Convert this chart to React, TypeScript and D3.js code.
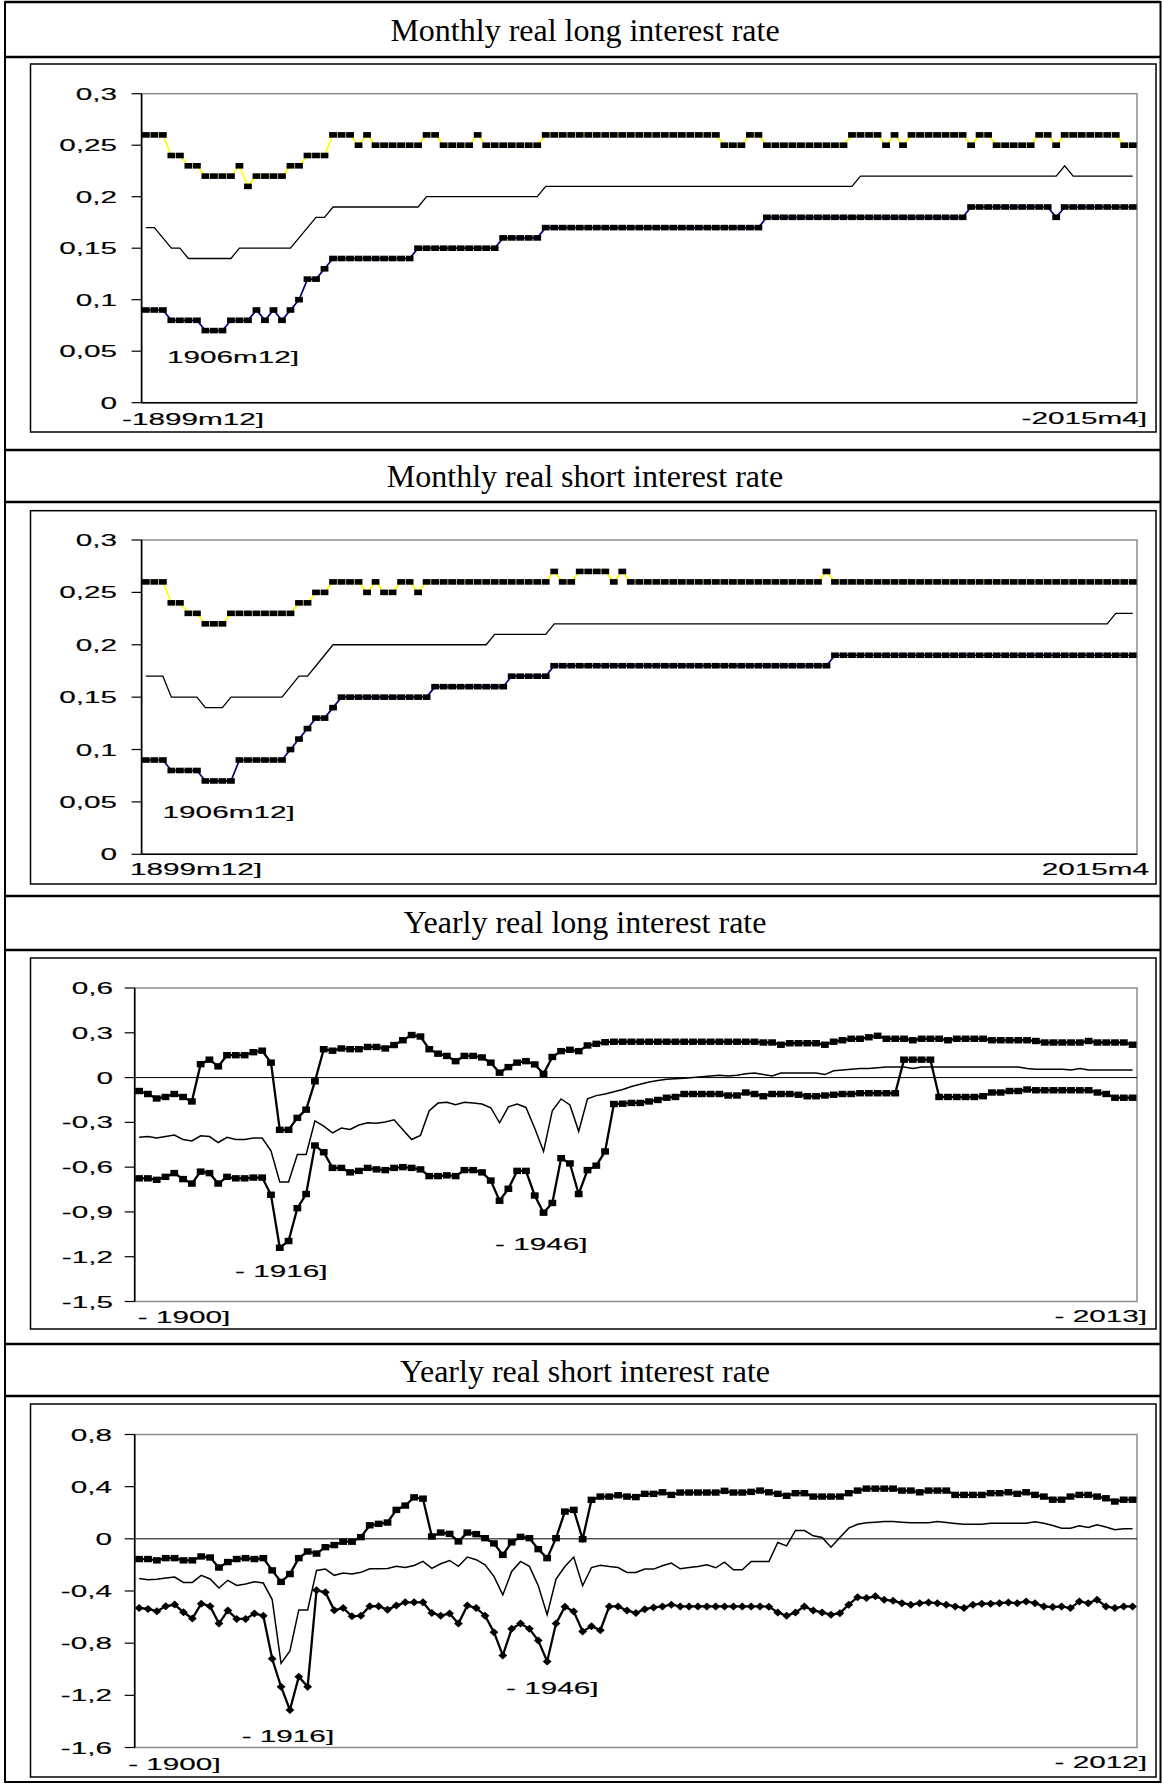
import React from 'react';
import * as d3 from 'd3';

const SANS = 'Liberation Sans, Arial, sans-serif';
const SERIF = 'Liberation Serif, Times New Roman, serif';
// the excel pictures were stretched sideways when pasted, so their text is too
const STRETCH = 1.8;

// monthly real long rate: upper band, central line, lower band (117 windows, 1899m12 .. 2015m4)
const mlHigh = [
  0.26, 0.26, 0.26, 0.24, 0.24, 0.23, 0.23, 0.22, 0.22, 0.22,
  0.22, 0.23, 0.21, 0.22, 0.22, 0.22, 0.22, 0.23, 0.23, 0.24,
  0.24, 0.24, 0.26, 0.26, 0.26, 0.25, 0.26, 0.25, 0.25, 0.25,
  0.25, 0.25, 0.25, 0.26, 0.26, 0.25, 0.25, 0.25, 0.25, 0.26,
  0.25, 0.25, 0.25, 0.25, 0.25, 0.25, 0.25, 0.26, 0.26, 0.26,
  0.26, 0.26, 0.26, 0.26, 0.26, 0.26, 0.26, 0.26, 0.26, 0.26,
  0.26, 0.26, 0.26, 0.26, 0.26, 0.26, 0.26, 0.26, 0.25, 0.25,
  0.25, 0.26, 0.26, 0.25, 0.25, 0.25, 0.25, 0.25, 0.25, 0.25,
  0.25, 0.25, 0.25, 0.26, 0.26, 0.26, 0.26, 0.25, 0.26, 0.25,
  0.26, 0.26, 0.26, 0.26, 0.26, 0.26, 0.26, 0.25, 0.26, 0.26,
  0.25, 0.25, 0.25, 0.25, 0.25, 0.26, 0.26, 0.25, 0.26, 0.26,
  0.26, 0.26, 0.26, 0.26, 0.26, 0.25, 0.25,
];
const mlMid = [
  0.17, 0.17, 0.16, 0.15, 0.15, 0.14, 0.14, 0.14, 0.14, 0.14,
  0.14, 0.15, 0.15, 0.15, 0.15, 0.15, 0.15, 0.15, 0.16, 0.17,
  0.18, 0.18, 0.19, 0.19, 0.19, 0.19, 0.19, 0.19, 0.19, 0.19,
  0.19, 0.19, 0.19, 0.2, 0.2, 0.2, 0.2, 0.2, 0.2, 0.2,
  0.2, 0.2, 0.2, 0.2, 0.2, 0.2, 0.2, 0.21, 0.21, 0.21,
  0.21, 0.21, 0.21, 0.21, 0.21, 0.21, 0.21, 0.21, 0.21, 0.21,
  0.21, 0.21, 0.21, 0.21, 0.21, 0.21, 0.21, 0.21, 0.21, 0.21,
  0.21, 0.21, 0.21, 0.21, 0.21, 0.21, 0.21, 0.21, 0.21, 0.21,
  0.21, 0.21, 0.21, 0.21, 0.22, 0.22, 0.22, 0.22, 0.22, 0.22,
  0.22, 0.22, 0.22, 0.22, 0.22, 0.22, 0.22, 0.22, 0.22, 0.22,
  0.22, 0.22, 0.22, 0.22, 0.22, 0.22, 0.22, 0.22, 0.23, 0.22,
  0.22, 0.22, 0.22, 0.22, 0.22, 0.22, 0.22,
];
const mlLow = [
  0.09, 0.09, 0.09, 0.08, 0.08, 0.08, 0.08, 0.07, 0.07, 0.07,
  0.08, 0.08, 0.08, 0.09, 0.08, 0.09, 0.08, 0.09, 0.1, 0.12,
  0.12, 0.13, 0.14, 0.14, 0.14, 0.14, 0.14, 0.14, 0.14, 0.14,
  0.14, 0.14, 0.15, 0.15, 0.15, 0.15, 0.15, 0.15, 0.15, 0.15,
  0.15, 0.15, 0.16, 0.16, 0.16, 0.16, 0.16, 0.17, 0.17, 0.17,
  0.17, 0.17, 0.17, 0.17, 0.17, 0.17, 0.17, 0.17, 0.17, 0.17,
  0.17, 0.17, 0.17, 0.17, 0.17, 0.17, 0.17, 0.17, 0.17, 0.17,
  0.17, 0.17, 0.17, 0.18, 0.18, 0.18, 0.18, 0.18, 0.18, 0.18,
  0.18, 0.18, 0.18, 0.18, 0.18, 0.18, 0.18, 0.18, 0.18, 0.18,
  0.18, 0.18, 0.18, 0.18, 0.18, 0.18, 0.18, 0.19, 0.19, 0.19,
  0.19, 0.19, 0.19, 0.19, 0.19, 0.19, 0.19, 0.18, 0.19, 0.19,
  0.19, 0.19, 0.19, 0.19, 0.19, 0.19, 0.19,
];

// monthly real short rate
const msHigh = [
  0.26, 0.26, 0.26, 0.24, 0.24, 0.23, 0.23, 0.22, 0.22, 0.22,
  0.23, 0.23, 0.23, 0.23, 0.23, 0.23, 0.23, 0.23, 0.24, 0.24,
  0.25, 0.25, 0.26, 0.26, 0.26, 0.26, 0.25, 0.26, 0.25, 0.25,
  0.26, 0.26, 0.25, 0.26, 0.26, 0.26, 0.26, 0.26, 0.26, 0.26,
  0.26, 0.26, 0.26, 0.26, 0.26, 0.26, 0.26, 0.26, 0.27, 0.26,
  0.26, 0.27, 0.27, 0.27, 0.27, 0.26, 0.27, 0.26, 0.26, 0.26,
  0.26, 0.26, 0.26, 0.26, 0.26, 0.26, 0.26, 0.26, 0.26, 0.26,
  0.26, 0.26, 0.26, 0.26, 0.26, 0.26, 0.26, 0.26, 0.26, 0.26,
  0.27, 0.26, 0.26, 0.26, 0.26, 0.26, 0.26, 0.26, 0.26, 0.26,
  0.26, 0.26, 0.26, 0.26, 0.26, 0.26, 0.26, 0.26, 0.26, 0.26,
  0.26, 0.26, 0.26, 0.26, 0.26, 0.26, 0.26, 0.26, 0.26, 0.26,
  0.26, 0.26, 0.26, 0.26, 0.26, 0.26, 0.26,
];
const msMid = [
  0.17, 0.17, 0.17, 0.15, 0.15, 0.15, 0.15, 0.14, 0.14, 0.14,
  0.15, 0.15, 0.15, 0.15, 0.15, 0.15, 0.15, 0.16, 0.17, 0.17,
  0.18, 0.19, 0.2, 0.2, 0.2, 0.2, 0.2, 0.2, 0.2, 0.2,
  0.2, 0.2, 0.2, 0.2, 0.2, 0.2, 0.2, 0.2, 0.2, 0.2,
  0.2, 0.21, 0.21, 0.21, 0.21, 0.21, 0.21, 0.21, 0.22, 0.22,
  0.22, 0.22, 0.22, 0.22, 0.22, 0.22, 0.22, 0.22, 0.22, 0.22,
  0.22, 0.22, 0.22, 0.22, 0.22, 0.22, 0.22, 0.22, 0.22, 0.22,
  0.22, 0.22, 0.22, 0.22, 0.22, 0.22, 0.22, 0.22, 0.22, 0.22,
  0.22, 0.22, 0.22, 0.22, 0.22, 0.22, 0.22, 0.22, 0.22, 0.22,
  0.22, 0.22, 0.22, 0.22, 0.22, 0.22, 0.22, 0.22, 0.22, 0.22,
  0.22, 0.22, 0.22, 0.22, 0.22, 0.22, 0.22, 0.22, 0.22, 0.22,
  0.22, 0.22, 0.22, 0.22, 0.23, 0.23, 0.23,
];
const msLow = [
  0.09, 0.09, 0.09, 0.08, 0.08, 0.08, 0.08, 0.07, 0.07, 0.07,
  0.07, 0.09, 0.09, 0.09, 0.09, 0.09, 0.09, 0.1, 0.11, 0.12,
  0.13, 0.13, 0.14, 0.15, 0.15, 0.15, 0.15, 0.15, 0.15, 0.15,
  0.15, 0.15, 0.15, 0.15, 0.16, 0.16, 0.16, 0.16, 0.16, 0.16,
  0.16, 0.16, 0.16, 0.17, 0.17, 0.17, 0.17, 0.17, 0.18, 0.18,
  0.18, 0.18, 0.18, 0.18, 0.18, 0.18, 0.18, 0.18, 0.18, 0.18,
  0.18, 0.18, 0.18, 0.18, 0.18, 0.18, 0.18, 0.18, 0.18, 0.18,
  0.18, 0.18, 0.18, 0.18, 0.18, 0.18, 0.18, 0.18, 0.18, 0.18,
  0.18, 0.19, 0.19, 0.19, 0.19, 0.19, 0.19, 0.19, 0.19, 0.19,
  0.19, 0.19, 0.19, 0.19, 0.19, 0.19, 0.19, 0.19, 0.19, 0.19,
  0.19, 0.19, 0.19, 0.19, 0.19, 0.19, 0.19, 0.19, 0.19, 0.19,
  0.19, 0.19, 0.19, 0.19, 0.19, 0.19, 0.19,
];

// yearly real long rate, 1900 .. 2013
const ylHigh = [
  -0.09, -0.11, -0.14, -0.13, -0.11, -0.13, -0.16, 0.09, 0.12, 0.075,
  0.15, 0.15, 0.15, 0.17, 0.18, 0.1, -0.35, -0.35, -0.27, -0.215,
  -0.025, 0.19, 0.18, 0.195, 0.19, 0.19, 0.205, 0.205, 0.195, 0.218,
  0.25, 0.285, 0.275, 0.19, 0.16, 0.145, 0.11, 0.145, 0.145, 0.135,
  0.1, 0.033, 0.07, 0.1, 0.11, 0.088, 0.025, 0.138, 0.177, 0.186,
  0.177, 0.215, 0.226, 0.237, 0.24, 0.24, 0.24, 0.24, 0.24, 0.24,
  0.24, 0.24, 0.24, 0.24, 0.24, 0.24, 0.24, 0.24, 0.24, 0.24,
  0.24, 0.235, 0.235, 0.22, 0.23, 0.23, 0.23, 0.23, 0.22, 0.24,
  0.25, 0.26, 0.26, 0.27, 0.28, 0.26, 0.26, 0.26, 0.25, 0.26,
  0.26, 0.26, 0.25, 0.26, 0.26, 0.26, 0.26, 0.25, 0.25, 0.25,
  0.25, 0.25, 0.245, 0.235, 0.235, 0.235, 0.235, 0.235, 0.245, 0.235,
  0.235, 0.235, 0.235, 0.22,
];
const ylMid = [
  -0.4, -0.395, -0.405, -0.395, -0.385, -0.415, -0.425, -0.39, -0.395, -0.435,
  -0.4, -0.415, -0.415, -0.405, -0.405, -0.49, -0.7, -0.7, -0.515, -0.515,
  -0.29, -0.325, -0.37, -0.338, -0.348, -0.318, -0.303, -0.306, -0.298, -0.283,
  -0.35, -0.415, -0.387, -0.222, -0.171, -0.166, -0.182, -0.166, -0.17, -0.177,
  -0.202, -0.303, -0.196, -0.178, -0.2, -0.34, -0.495, -0.222, -0.143, -0.183,
  -0.36, -0.143, -0.121, -0.11, -0.095, -0.08, -0.06, -0.045, -0.03, -0.02,
  -0.012, -0.008, -0.005, 0, 0.005, 0.01, 0.015, 0.01, 0.015, 0.025,
  0.03, 0.02, 0.01, 0.03, 0.03, 0.03, 0.03, 0.03, 0.02, 0.045,
  0.05, 0.055, 0.06, 0.06, 0.065, 0.07, 0.07, 0.07, 0.06, 0.07,
  0.07, 0.07, 0.07, 0.07, 0.07, 0.07, 0.07, 0.07, 0.07, 0.07,
  0.07, 0.06, 0.055, 0.055, 0.055, 0.055, 0.05, 0.06, 0.05, 0.05,
  0.05, 0.05, 0.05, 0.05,
];
const ylLow = [
  -0.675, -0.675, -0.685, -0.665, -0.64, -0.68, -0.71, -0.63, -0.64, -0.71,
  -0.665, -0.675, -0.675, -0.67, -0.67, -0.785, -1.14, -1.095, -0.875, -0.78,
  -0.455, -0.5, -0.605, -0.605, -0.635, -0.625, -0.605, -0.615, -0.62, -0.605,
  -0.6, -0.605, -0.615, -0.66, -0.66, -0.655, -0.66, -0.62, -0.62, -0.635,
  -0.69, -0.825, -0.745, -0.625, -0.625, -0.79, -0.905, -0.84, -0.54, -0.575,
  -0.78, -0.62, -0.59, -0.495, -0.177, -0.175, -0.17, -0.17, -0.16, -0.15,
  -0.135, -0.13, -0.11, -0.11, -0.11, -0.11, -0.11, -0.12, -0.12, -0.1,
  -0.11, -0.125, -0.11, -0.11, -0.11, -0.115, -0.125, -0.125, -0.12, -0.115,
  -0.11, -0.11, -0.105, -0.105, -0.105, -0.105, -0.105, 0.12, 0.12, 0.12,
  0.12, -0.13, -0.13, -0.13, -0.13, -0.13, -0.125, -0.1, -0.1, -0.09,
  -0.09, -0.08, -0.085, -0.085, -0.085, -0.085, -0.085, -0.085, -0.085, -0.1,
  -0.11, -0.135, -0.135, -0.135,
];

// yearly real short rate, 1900 .. 2012
const ysHigh = [
  -0.155, -0.155, -0.165, -0.148, -0.148, -0.165, -0.165, -0.135, -0.143, -0.22,
  -0.178, -0.155, -0.148, -0.155, -0.148, -0.242, -0.33, -0.27, -0.148, -0.097,
  -0.113, -0.064, -0.048, -0.022, -0.022, 0.013, 0.104, 0.115, 0.125, 0.222,
  0.255, 0.318, 0.308, 0.018, 0.048, 0.038, -0.02, 0.048, 0.036, 0.005,
  -0.035, -0.123, -0.027, 0.015, 0.005, -0.079, -0.148, 0.005, 0.209, 0.222,
  -0.003, 0.299, 0.324, 0.324, 0.334, 0.324, 0.32, 0.345, 0.345, 0.357,
  0.337, 0.355, 0.355, 0.355, 0.355, 0.355, 0.368, 0.355, 0.355, 0.36,
  0.37, 0.357, 0.345, 0.33, 0.35, 0.35, 0.324, 0.324, 0.324, 0.324,
  0.35, 0.37, 0.385, 0.385, 0.385, 0.385, 0.37, 0.37, 0.357, 0.37,
  0.37, 0.37, 0.337, 0.337, 0.337, 0.337, 0.35, 0.35, 0.357, 0.345,
  0.357, 0.337, 0.324, 0.3, 0.3, 0.324, 0.337, 0.337, 0.324, 0.311,
  0.286, 0.3, 0.3,
];
const ysMid = [
  -0.305, -0.313, -0.31, -0.3, -0.293, -0.334, -0.334, -0.28, -0.308, -0.377,
  -0.318, -0.357, -0.346, -0.329, -0.339, -0.466, -0.955, -0.86, -0.545, -0.545,
  -0.242, -0.232, -0.28, -0.262, -0.27, -0.257, -0.229, -0.229, -0.227, -0.211,
  -0.219, -0.204, -0.173, -0.227, -0.191, -0.166, -0.211, -0.14, -0.16, -0.199,
  -0.288, -0.43, -0.25, -0.173, -0.211, -0.36, -0.582, -0.309, -0.212, -0.14,
  -0.36, -0.22, -0.202, -0.212, -0.22, -0.258, -0.258, -0.232, -0.232, -0.207,
  -0.186, -0.23, -0.22, -0.212, -0.199, -0.222, -0.179, -0.237, -0.237, -0.174,
  -0.174, -0.174, -0.028, -0.054, 0.064, 0.064, 0.023, 0.01, -0.064, 0.01,
  0.082, 0.112, 0.123, 0.128, 0.133, 0.133, 0.128, 0.123, 0.123, 0.123,
  0.133, 0.125, 0.118, 0.112, 0.112, 0.112, 0.12, 0.12, 0.12, 0.12,
  0.12, 0.13, 0.12, 0.102, 0.082, 0.082, 0.1, 0.087, 0.107, 0.09,
  0.069, 0.077, 0.077,
];
const ysLow = [
  -0.53, -0.538, -0.555, -0.517, -0.504, -0.563, -0.611, -0.497, -0.517, -0.65,
  -0.55, -0.614, -0.614, -0.573, -0.589, -0.92, -1.134, -1.312, -1.057, -1.134,
  -0.395, -0.41, -0.548, -0.53, -0.594, -0.589, -0.517, -0.517, -0.543, -0.512,
  -0.487, -0.487, -0.487, -0.568, -0.589, -0.573, -0.65, -0.512, -0.53, -0.589,
  -0.716, -0.894, -0.69, -0.65, -0.69, -0.78, -0.94, -0.65, -0.52, -0.557,
  -0.71, -0.67, -0.7, -0.518, -0.518, -0.549, -0.569, -0.539, -0.526, -0.518,
  -0.505, -0.518, -0.518, -0.518, -0.518, -0.518, -0.518, -0.518, -0.518, -0.518,
  -0.518, -0.52, -0.564, -0.59, -0.564, -0.518, -0.549, -0.564, -0.582, -0.57,
  -0.505, -0.447, -0.454, -0.441, -0.467, -0.475, -0.493, -0.505, -0.493, -0.488,
  -0.493, -0.505, -0.518, -0.531, -0.505, -0.497, -0.497, -0.493, -0.488, -0.493,
  -0.48, -0.493, -0.518, -0.523, -0.518, -0.531, -0.48, -0.493, -0.467, -0.518,
  -0.531, -0.518, -0.518,
];

const monthlyTicks = [0, 0.05, 0.1, 0.15, 0.2, 0.25, 0.3];
const monthlyTickLabels = ['0', '0,05', '0,1', '0,15', '0,2', '0,25', '0,3'];
const ylTicks = [-1.5, -1.2, -0.9, -0.6, -0.3, 0, 0.3, 0.6];
const ylTickLabels = ['-1,5', '-1,2', '-0,9', '-0,6', '-0,3', '0', '0,3', '0,6'];
const ysTicks = [-1.6, -1.2, -0.8, -0.4, 0, 0.4, 0.8];
const ysTickLabels = ['-1,6', '-1,2', '-0,8', '-0,4', '0', '0,4', '0,8'];

const titles = [
  'Monthly real long interest rate',
  'Monthly real short interest rate',
  'Yearly real long interest rate',
  'Yearly real short interest rate',
];

const STRETCHED = ({ x, y, anchor = 'start', children }: any) => (
  <text
    transform={`translate(${x},${y}) scale(${STRETCH},1)`}
    textAnchor={anchor}
    fontFamily={SANS}
    fontSize={16.5}
    fill="#000"
    stroke="#000"
    strokeWidth={0.15}
  >
    {children}
  </text>
);

type Series = { values: number[]; stroke: string; width: number; marker?: 'square' | 'diamond' };

const panels = [
  {
    title: titles[0], cellTop: 2, titleY: 41, sepY: 57, cellBottom: 450,
    frame: [30.5, 64, 1156, 432],
    plot: { left: 141.6, right: 1137, top: 93.7, bottom: 402.7 },
    domain: [0, 0.3], ticks: monthlyTicks, tickLabels: monthlyTickLabels, labelRight: 117,
    mw: 7.8, mh: 5.6,
    series: [
      { values: mlMid, stroke: '#000', width: 1.3 },
      { values: mlHigh, stroke: '#ffff00', width: 1.7, marker: 'square' },
      { values: mlLow, stroke: '#000080', width: 1.7, marker: 'square' },
    ] as Series[],
    xLabels: [
      { text: '-1899m12]', x: 122, y: 425, anchor: 'start' },
      { text: '-2015m4]', x: 1147, y: 424, anchor: 'end' },
    ],
    notes: [{ text: '1906m12]', x: 167, y: 363 }],
  },
  {
    title: titles[1], cellTop: 450, titleY: 487, sepY: 502, cellBottom: 896,
    frame: [30.5, 510.7, 1156, 884],
    plot: { left: 141.6, right: 1137, top: 540, bottom: 854.3 },
    domain: [0, 0.3], ticks: monthlyTicks, tickLabels: monthlyTickLabels, labelRight: 117,
    mw: 7.8, mh: 5.6,
    series: [
      { values: msMid, stroke: '#000', width: 1.3 },
      { values: msHigh, stroke: '#ffff00', width: 1.7, marker: 'square' },
      { values: msLow, stroke: '#000080', width: 1.7, marker: 'square' },
    ] as Series[],
    xLabels: [
      { text: '1899m12]', x: 130, y: 875, anchor: 'start' },
      { text: '2015m4', x: 1149, y: 875, anchor: 'end' },
    ],
    notes: [{ text: '1906m12]', x: 162.6, y: 818 }],
  },
  {
    title: titles[2], cellTop: 896, titleY: 933, sepY: 950, cellBottom: 1344,
    frame: [30.5, 958, 1156, 1329],
    plot: { left: 134.7, right: 1137, top: 988, bottom: 1301.5 },
    domain: [-1.5, 0.6], ticks: ylTicks, tickLabels: ylTickLabels, labelRight: 113,
    mw: 7.8, mh: 6.4,
    series: [
      { values: ylMid, stroke: '#000', width: 1.5 },
      { values: ylHigh, stroke: '#000', width: 2.3, marker: 'square' },
      { values: ylLow, stroke: '#000', width: 2.3, marker: 'square' },
    ] as Series[],
    xLabels: [
      { text: '- 1900]', x: 137.8, y: 1322.7, anchor: 'start' },
      { text: '- 2013]', x: 1147, y: 1321.7, anchor: 'end' },
    ],
    notes: [
      { text: '- 1916]', x: 235, y: 1276.7 },
      { text: '- 1946]', x: 495, y: 1250 },
    ],
  },
  {
    title: titles[3], cellTop: 1344, titleY: 1382, sepY: 1396, cellBottom: 1782,
    frame: [30.5, 1404, 1156, 1777],
    plot: { left: 134.7, right: 1137, top: 1434.5, bottom: 1747.5 },
    domain: [-1.6, 0.8], ticks: ysTicks, tickLabels: ysTickLabels, labelRight: 112,
    mw: 7.8, mh: 6.4,
    series: [
      { values: ysMid, stroke: '#000', width: 1.5 },
      { values: ysHigh, stroke: '#000', width: 2.3, marker: 'square' },
      { values: ysLow, stroke: '#000', width: 2.3, marker: 'diamond' },
    ] as Series[],
    xLabels: [
      { text: '- 1900]', x: 128.2, y: 1770, anchor: 'start' },
      { text: '- 2012]', x: 1147, y: 1768, anchor: 'end' },
    ],
    notes: [
      { text: '- 1916]', x: 241.7, y: 1741.7 },
      { text: '- 1946]', x: 506, y: 1694 },
    ],
  },
];

function Chart({ p }: { p: any }) {
  const n = p.series[0].values.length;
  const x = d3.scaleBand<number>().domain(d3.range(n)).range([p.plot.left, p.plot.right]);
  const cx = (i: number) => (x(i) as number) + x.bandwidth() / 2;
  const y = d3.scaleLinear().domain(p.domain).range([p.plot.bottom, p.plot.top]);
  const line = d3.line<number>().x((_, i) => cx(i)).y((d) => y(d));
  const [fx0, fy0, fx1, fy1] = p.frame;
  const zeroInside = p.domain[0] < 0;

  return (
    <g>
      <rect x={fx0} y={fy0} width={fx1 - fx0} height={fy1 - fy0} fill="#fff" stroke="#000" strokeWidth={1.5} />
      {/* plot area border, grey like excel */}
      <rect
        x={p.plot.left} y={p.plot.top}
        width={p.plot.right - p.plot.left} height={p.plot.bottom - p.plot.top}
        fill="none" stroke="#8c8c8c" strokeWidth={1.5}
      />
      <line
        x1={p.plot.left} x2={p.plot.right} y1={y(0)} y2={y(0)}
        stroke="#000" strokeWidth={zeroInside ? 1 : 1.4}
      />
      <line x1={p.plot.left} x2={p.plot.left} y1={p.plot.top} y2={p.plot.bottom} stroke="#000" strokeWidth={1.6} />
      {p.ticks.map((t: number, i: number) => (
        <g key={t}>
          <line x1={p.plot.left - 10} x2={p.plot.left} y1={y(t)} y2={y(t)} stroke="#000" strokeWidth={1.2} />
          <STRETCHED x={p.labelRight} y={y(t) + 6} anchor="end">{p.tickLabels[i]}</STRETCHED>
        </g>
      ))}
      {p.series.map((s: Series, k: number) => (
        <path key={'l' + k} d={line(s.values) as string} fill="none" stroke={s.stroke} strokeWidth={s.width} strokeLinejoin="miter" />
      ))}
      {p.series.map((s: Series, k: number) =>
        s.marker === 'square'
          ? s.values.map((v, i) => (
              <rect key={`m${k}-${i}`} x={cx(i) - p.mw / 2} y={y(v) - p.mh / 2} width={p.mw} height={p.mh} fill="#000" />
            ))
          : s.marker === 'diamond'
          ? s.values.map((v, i) => (
              <path
                key={`m${k}-${i}`}
                d={`M${cx(i) - 4.4},${y(v)}L${cx(i)},${y(v) - 4}L${cx(i) + 4.4},${y(v)}L${cx(i)},${y(v) + 4}Z`}
                fill="#000"
              />
            ))
          : null
      )}
      {p.xLabels.map((l: any) => (
        <STRETCHED key={l.text} x={l.x} y={l.y} anchor={l.anchor}>{l.text}</STRETCHED>
      ))}
      {p.notes.map((l: any) => (
        <STRETCHED key={l.text} x={l.x} y={l.y}>{l.text}</STRETCHED>
      ))}
    </g>
  );
}

export default function App() {
  const W = 1162;
  const H = 1784;
  return (
    <div style={{ position: 'absolute', left: 0, top: 0 }}>
      <svg width={W} height={H} viewBox={`0 0 ${W} ${H}`} style={{ display: 'block', background: '#fff' }}>
        <rect x={0} y={0} width={W} height={H} fill="#fff" />
        {panels.map((p) => (
          <g key={p.title}>
            <text x={585} y={p.titleY} textAnchor="middle" fontFamily={SERIF} fontSize={32} fill="#000">
              {p.title}
            </text>
            <line x1={5} x2={1160} y1={p.sepY} y2={p.sepY} stroke="#000" strokeWidth={2.5} />
            <line x1={5} x2={1160} y1={p.cellTop} y2={p.cellTop} stroke="#000" strokeWidth={2.5} />
            <Chart p={p} />
          </g>
        ))}
        {/* table outline */}
        <line x1={5} x2={5} y1={1} y2={1783} stroke="#000" strokeWidth={2} />
        <line x1={1160.5} x2={1160.5} y1={1} y2={1783} stroke="#000" strokeWidth={2} />
        <line x1={5} x2={1160} y1={1782} y2={1782} stroke="#000" strokeWidth={2} />
      </svg>
    </div>
  );
}
